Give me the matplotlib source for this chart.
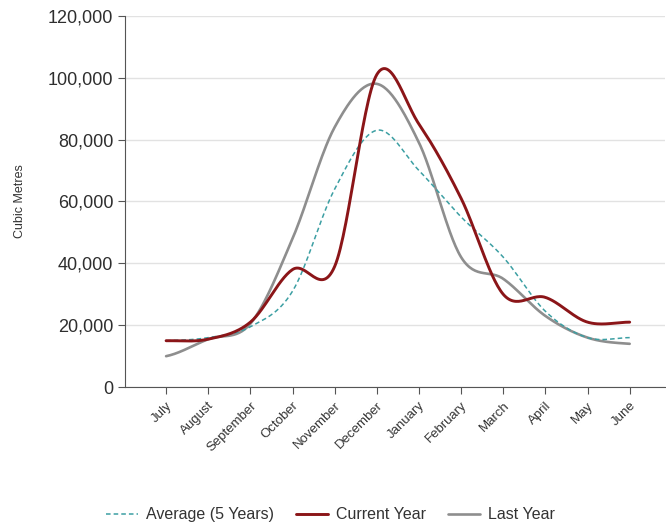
import matplotlib.pyplot as plt
import numpy as np

plt.rcParams['font.family'] = ['Liberation Sans', 'DejaVu Sans']

months = ['July', 'August', 'September', 'October', 'November', 'December',
          'January', 'February', 'March', 'April', 'May', 'June']

average_5y = [15000, 16000, 19500, 31000, 64000, 83000, 70000, 55000, 42000, 24500, 16000, 16000]
current_year = [15000, 15500, 21000, 38000, 39000, 101000, 85000, 61000, 30000, 29000, 21000, 21000]
last_year = [10000, 15500, 20500, 48000, 84000, 98000, 79000, 42000, 35000, 23000, 16000, 14000]


def smooth(y, n=30):
    # catmull-rom style hermite curve through the monthly points
    y = np.asarray(y, dtype=float)
    x = np.arange(len(y))
    m = np.zeros_like(y)
    m[1:-1] = (y[2:] - y[:-2]) / 2
    m[0] = (y[1] - y[0]) / 2
    m[-1] = (y[-1] - y[-2]) / 2
    xs, ys = [], []
    for i in range(len(y) - 1):
        t = np.linspace(0, 1, n, endpoint=False)
        h00 = 2 * t**3 - 3 * t**2 + 1
        h10 = t**3 - 2 * t**2 + t
        h01 = -2 * t**3 + 3 * t**2
        h11 = t**3 - t**2
        xs.append(x[i] + t)
        ys.append(h00 * y[i] + h10 * m[i] + h01 * y[i + 1] + h11 * m[i + 1])
    xs.append([x[-1]])
    ys.append([y[-1]])
    return np.concatenate(xs), np.concatenate(ys)


fig = plt.figure(figsize=(6.66, 5.26), dpi=100)
ax = fig.add_axes([0.188, 0.264, 0.81, 0.706])

for vals, color, lw, ls, label in [
        (last_year, '#8e8e8e', 1.9, '-', 'Last Year'),
        (average_5y, '#3c9fa3', 1.1, (0, (3, 2)), 'Average (5 Years)'),
        (current_year, '#8b1518', 2.1, '-', 'Current Year')]:
    sx, sy = smooth(vals)
    ax.plot(sx, sy, color=color, lw=lw, linestyle=ls, label=label, solid_capstyle='round')

ax.set_xlim(-0.97, 11.83)
ax.set_ylim(0, 120000)
ax.set_yticks(np.arange(0, 120001, 20000))
ax.set_yticklabels([f'{v:,}' for v in range(0, 120001, 20000)], fontsize=13, color='#2e2e2e')
ax.set_xticks(range(len(months)))
ax.set_xticklabels(months, rotation=45, ha='right', rotation_mode='anchor', fontsize=9.5, color='#333333')
ax.yaxis.grid(True, color='#e2e2e2', lw=1)
ax.set_axisbelow(True)
for s in ['top', 'right']:
    ax.spines[s].set_visible(False)
ax.spines['left'].set_color('#555555')
ax.spines['bottom'].set_color('#555555')
ax.tick_params(axis='both', length=5, color='#555555')
ax.tick_params(axis='x', pad=4)
ax.set_ylabel('Cubic Metres', fontsize=9, color='#333333', labelpad=16)

handles, labels = ax.get_legend_handles_labels()
order = [1, 2, 0]
fig.legend([handles[i] for i in order], [labels[i] for i in order], loc='center',
           bbox_to_anchor=(0.496, 0.021), ncol=3, frameon=False, fontsize=11.5,
           handlelength=2.0, handletextpad=0.5, columnspacing=1.4, labelcolor='#333333')

fig.savefig('out.png', dpi=100)
